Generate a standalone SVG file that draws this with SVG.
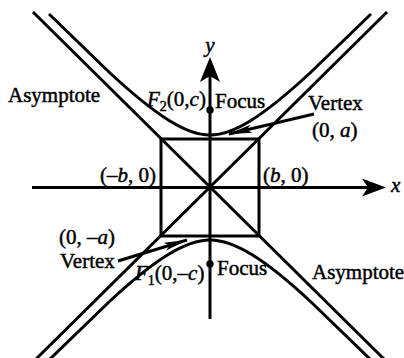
<svg xmlns="http://www.w3.org/2000/svg" width="404" height="358" viewBox="0 0 404 358">
<defs>
<style>
.ln{fill:none;stroke:#000;stroke-width:3;stroke-linecap:butt}
.t{font-family:"Liberation Serif","Times New Roman",serif;font-size:21px;fill:#000;stroke:#000;stroke-width:0.45}
.i{font-style:italic}
.sub{font-size:14px}
</style>
<marker id="ah" markerUnits="userSpaceOnUse" markerWidth="24" markerHeight="10" viewBox="0 0 24 10" refX="23" refY="5" orient="auto">
<path d="M0 1 L24 5 L0 9 L5 5 Z" fill="#000"/>
</marker>
</defs>
<rect width="404" height="358" fill="#fff"/>
<g id="axes">
<line class="ln" x1="32" y1="187.5" x2="372" y2="187.5"/>
<path d="M386 187.5 L362 178.5 L368 187.5 L362 196.5 Z" fill="#000"/>
<line class="ln" x1="210" y1="319" x2="210" y2="70"/>
<path d="M210 57 L200 82 L210 76 L220 82 Z" fill="#000"/>
</g>
<g id="box">
<rect class="ln" x="161" y="139" width="98" height="97"/>
</g>
<g id="asymptotes">
<line class="ln" x1="33" y1="12" x2="384" y2="359"/>
<line class="ln" x1="387" y1="12" x2="36" y2="359"/>
</g>
<g id="hyperbola">
<path class="ln" d="M49 14 L110 73 C156 115.5 186 135 210 135 C234 135 264 115.5 310 73 L371 14"/>
<path class="ln" d="M49 360 L110 301 C156 258.5 186 240 210 240 C234 240 264 258.5 310 301 L371 360"/>
</g>
<g id="foci">
<circle cx="210" cy="110" r="3.7" fill="#000"/>
<circle cx="210" cy="264" r="3.7" fill="#000"/>
</g>
<g id="connectors">
<line class="ln" x1="314" y1="114" x2="229" y2="134" marker-end="url(#ah)"/>
<line class="ln" x1="118" y1="261" x2="187" y2="240" marker-end="url(#ah)"/>
</g>
<g id="label-y"><text class="t i" x="210" y="52" text-anchor="middle">y</text></g>
<g id="label-x"><text class="t i" x="391" y="192">x</text></g>
<g id="label-asymptote-top"><text class="t" x="8" y="102">Asymptote</text></g>
<g id="label-f2"><text class="t" x="147" y="106"><tspan class="i">F</tspan><tspan class="sub" dy="5">2</tspan><tspan dy="-5">(0,</tspan><tspan class="i">c</tspan>)</text></g>
<g id="label-focus-top"><text class="t" x="215" y="108">Focus</text></g>
<g id="label-vertex-top"><text class="t" x="308" y="110">Vertex</text></g>
<g id="label-0a"><text class="t" x="312" y="137">(0, <tspan class="i">a</tspan>)</text></g>
<g id="label-mb0"><text class="t" x="100" y="182">(–<tspan class="i">b</tspan>, 0)</text></g>
<g id="label-b0"><text class="t" x="263" y="182">(<tspan class="i">b</tspan>, 0)</text></g>
<g id="label-0ma"><text class="t" x="59" y="244">(0, –<tspan class="i">a</tspan>)</text></g>
<g id="label-vertex-bottom"><text class="t" x="60" y="268">Vertex</text></g>
<g id="label-f1"><text class="t" x="135" y="280"><tspan class="i">F</tspan><tspan class="sub" dy="5">1</tspan><tspan dy="-5">(0,–</tspan><tspan class="i">c</tspan>)</text></g>
<g id="label-focus-bottom"><text class="t" x="217" y="275">Focus</text></g>
<g id="label-asymptote-bottom"><text class="t" x="312" y="279">Asymptote</text></g>
</svg>
